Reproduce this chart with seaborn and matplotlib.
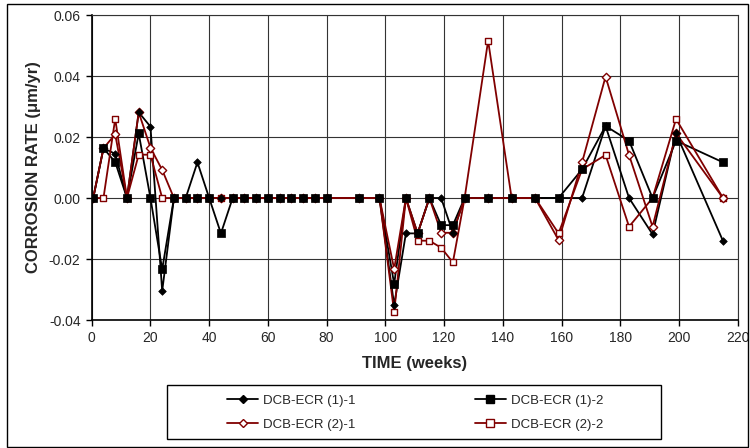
import pandas as pd
import seaborn as sns
import matplotlib.pyplot as plt
from matplotlib.lines import Line2D
from matplotlib.patches import Rectangle

# weeks of each reading
weeks = [0.5, 4, 8, 12, 16, 20, 24, 28, 32, 36, 40, 44, 48, 52, 56, 60, 64, 68, 72, 76, 80,
         91, 98, 103, 107, 111, 115, 119, 123, 127, 135, 143, 151, 159, 167, 175, 183, 191, 199, 215]

# corrosion rate (um/yr)
ecr1_1 = [0, 0.0163, 0.0145, 0, 0.0281, 0.0234, -0.0305, 0, 0, 0.0117, 0, 0, 0, 0, 0, 0, 0, 0, 0, 0, 0,
          0, 0, -0.0351, -0.0116, -0.0116, 0, 0, -0.0114, 0, 0, 0, 0, 0, 0, 0.0236, 0, -0.0119, 0.0212, -0.0141]
ecr1_2 = [0, 0.0163, 0.0118, 0, 0.0212, 0, -0.0234, 0, 0, 0, 0, -0.0116, 0, 0, 0, 0, 0, 0, 0, 0, 0,
          0, 0, -0.0282, 0, -0.0116, 0, -0.0089, -0.0089, 0, 0, 0, 0, 0, 0.0094, 0.0236, 0.0188, 0, 0.0188, 0.0117]
ecr2_1 = [0, 0.0163, 0.0209, 0, 0.0281, 0.0165, 0.0092, 0, 0, 0, 0, 0, 0, 0, 0, 0, 0, 0, 0, 0, 0,
          0, 0, -0.0233, 0, -0.0116, 0, -0.0114, -0.0114, 0, 0, 0, 0, -0.0138, 0.0117, 0.0398, 0.0141, -0.0094, 0.0212, 0]
ecr2_2 = [0, 0, 0.0260, 0, 0.0142, 0.0142, 0, 0, 0, 0, 0, 0, 0, 0, 0, 0, 0, 0, 0, 0, 0,
          0, 0, -0.0375, 0, -0.0140, -0.0140, -0.0163, -0.0211, 0, 0.0516, 0, 0, -0.0116, 0.0094, 0.0141, -0.0094, 0, 0.0259, 0]

labels = ["DCB-ECR (1)-1", "DCB-ECR (1)-2", "DCB-ECR (2)-1", "DCB-ECR (2)-2"]

dark_red = "#800000"
series = [
    # values, color, marker, face, size
    (ecr1_1, "black", "D", "black", 15),
    (ecr1_2, "black", "s", "black", 30),
    (ecr2_1, dark_red, "D", "white", 18),
    (ecr2_2, dark_red, "s", "white", 24),
]

sns.set_style("white")
plt.rcParams["font.family"] = ["Liberation Sans", "DejaVu Sans"]

fig = plt.figure(figsize=(7.5, 4.48), dpi=100)
ax = fig.add_axes([0.1223, 0.2857, 0.8613, 0.6808])

# lines first (black under red), then markers (red under black)
for vals, c, m, fc, s in series:
    sns.lineplot(x=weeks, y=vals, color=c, lw=1.3, ax=ax, zorder=3 if c == dark_red else 2.5)
for vals, c, m, fc, s in reversed(series):
    sns.scatterplot(x=weeks, y=vals, marker=m, s=s, color=fc, edgecolor=c,
                    linewidth=1.0 if fc == "white" else 0.5, ax=ax,
                    zorder=5 if c == "black" else 4, legend=False)

ax.set_xlim(0, 220)
ax.set_ylim(-0.04, 0.06)
ax.set_xticks(range(0, 221, 20))
ax.set_yticks([-0.04, -0.02, 0.0, 0.02, 0.04, 0.06])
ax.set_yticklabels(["-0.04", "-0.02", "0.00", "0.02", "0.04", "0.06"])
ax.grid(True, color="#333333", lw=0.8)
ax.tick_params(direction="out", length=4, width=1, color="black", labelsize=10, pad=4,
               bottom=True, left=True)
for sp in ax.spines.values():
    sp.set_color("#333333")
    sp.set_linewidth(0.8)
ax.spines["left"].set_color("black")
ax.spines["left"].set_linewidth(1.2)
ax.spines["bottom"].set_color("black")
ax.spines["bottom"].set_linewidth(1.2)

ax.set_xlabel("TIME (weeks)", fontsize=12, fontweight="bold", labelpad=8)
ax.set_ylabel("CORROSION RATE (\u03bcm/yr)", fontsize=12, fontweight="bold", labelpad=6)

handles = []
for vals, c, m, fc, s in series:
    handles.append(Line2D([], [], color=c, lw=1.3, marker=m, markerfacecolor=fc,
                          markeredgecolor=c, markersize=5.5 if m == "s" else 4.5))
order = [0, 2, 1, 3]
fig.legend([handles[i] for i in order], [labels[i] for i in order],
           loc="center", bbox_to_anchor=(415.2 / 750, 1 - 412.7 / 448), ncol=2, frameon=False,
           fontsize=9.5, handlelength=2.4, handletextpad=0.38, columnspacing=9.0,
           labelspacing=0.85, borderpad=0)

fig.patches.append(Rectangle((167.3 / 750, 1 - 439.3 / 448), 493.4 / 750, 54.3 / 448,
                             transform=fig.transFigure, fill=False, edgecolor="black", lw=1))
fig.patches.append(Rectangle((6.5 / 750, 1 - 446.5 / 448), 741.5 / 750, 442.5 / 448,
                             transform=fig.transFigure, fill=False, edgecolor="black", lw=1))

fig.savefig("out.png", dpi=100)
